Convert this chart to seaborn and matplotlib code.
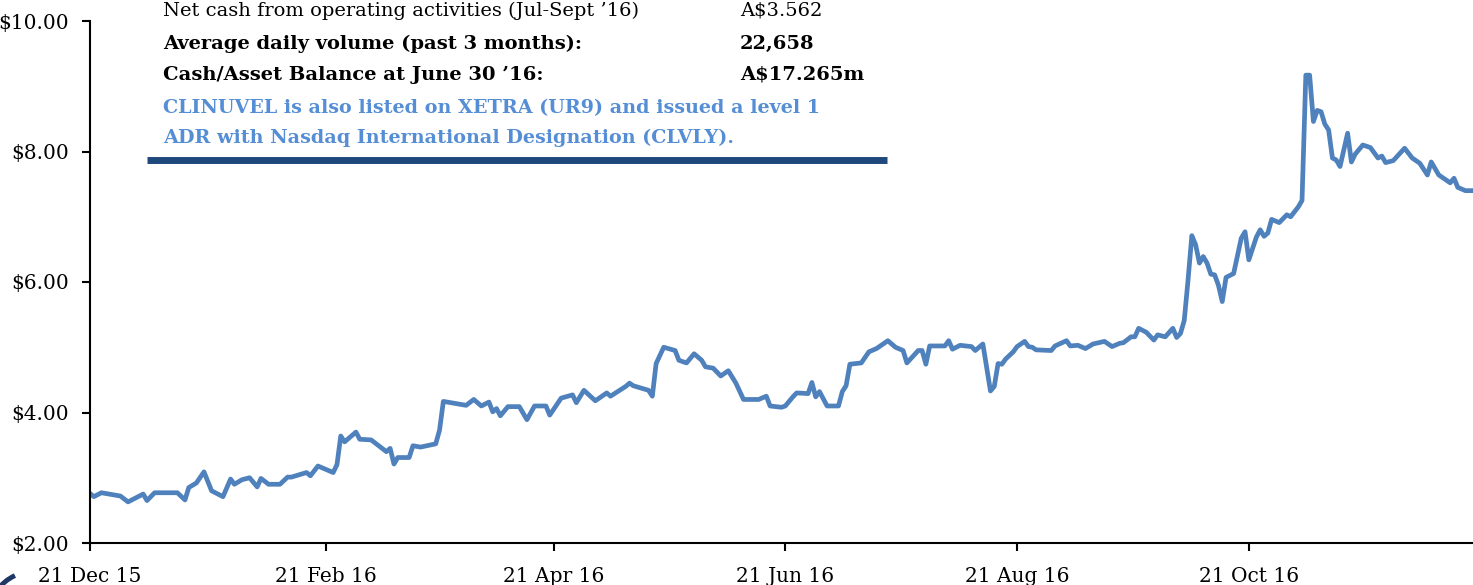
import pandas as pd
import matplotlib.pyplot as plt
import matplotlib.dates as mdates
from matplotlib.patches import Arc
import seaborn as sns

# share price (date, A$)
dates = [
    '2015-12-21', '2015-12-22', '2015-12-24', '2015-12-29', '2015-12-31',
    '2016-01-04', '2016-01-05', '2016-01-07', '2016-01-13', '2016-01-15',
    '2016-01-16', '2016-01-18', '2016-01-20', '2016-01-22', '2016-01-25',
    '2016-01-27', '2016-01-28', '2016-01-30', '2016-02-01', '2016-02-03',
    '2016-02-04', '2016-02-06', '2016-02-09', '2016-02-11', '2016-02-12',
    '2016-02-16', '2016-02-17', '2016-02-19', '2016-02-23', '2016-02-24',
    '2016-02-25', '2016-02-26', '2016-02-29', '2016-03-01', '2016-03-04',
    '2016-03-08', '2016-03-09', '2016-03-10', '2016-03-11', '2016-03-14',
    '2016-03-15', '2016-03-17', '2016-03-21', '2016-03-22', '2016-03-23',
    '2016-03-29', '2016-03-31', '2016-04-02', '2016-04-04', '2016-04-05',
    '2016-04-06', '2016-04-07', '2016-04-09', '2016-04-12', '2016-04-14',
    '2016-04-16', '2016-04-19', '2016-04-20', '2016-04-23', '2016-04-26',
    '2016-04-27', '2016-04-29', '2016-05-02', '2016-05-05', '2016-05-06',
    '2016-05-10', '2016-05-11', '2016-05-12', '2016-05-16', '2016-05-17',
    '2016-05-18', '2016-05-20', '2016-05-23', '2016-05-24', '2016-05-26',
    '2016-05-28', '2016-05-30', '2016-05-31', '2016-06-02', '2016-06-04',
    '2016-06-06', '2016-06-08', '2016-06-10', '2016-06-14', '2016-06-16',
    '2016-06-17', '2016-06-20', '2016-06-21', '2016-06-23', '2016-06-24',
    '2016-06-27', '2016-06-28', '2016-06-29', '2016-06-30', '2016-07-02',
    '2016-07-05', '2016-07-06', '2016-07-07', '2016-07-08', '2016-07-11',
    '2016-07-13', '2016-07-15', '2016-07-18', '2016-07-20', '2016-07-22',
    '2016-07-23', '2016-07-26', '2016-07-27', '2016-07-28', '2016-07-29',
    '2016-08-02', '2016-08-03', '2016-08-04', '2016-08-06', '2016-08-09',
    '2016-08-10', '2016-08-12', '2016-08-14', '2016-08-15', '2016-08-16',
    '2016-08-17', '2016-08-18', '2016-08-20', '2016-08-21', '2016-08-23',
    '2016-08-24', '2016-08-25', '2016-08-26', '2016-08-30', '2016-08-31',
    '2016-09-03', '2016-09-04', '2016-09-06', '2016-09-08', '2016-09-10',
    '2016-09-13', '2016-09-15', '2016-09-17', '2016-09-18', '2016-09-20',
    '2016-09-21', '2016-09-22', '2016-09-24', '2016-09-26', '2016-09-27',
    '2016-09-29', '2016-10-01', '2016-10-02', '2016-10-03', '2016-10-04',
    '2016-10-05', '2016-10-06', '2016-10-07', '2016-10-08', '2016-10-09',
    '2016-10-10', '2016-10-11', '2016-10-12', '2016-10-13', '2016-10-14',
    '2016-10-15', '2016-10-17', '2016-10-19', '2016-10-20', '2016-10-21',
    '2016-10-23', '2016-10-24', '2016-10-25', '2016-10-26', '2016-10-27',
    '2016-10-29', '2016-10-31', '2016-11-01', '2016-11-03', '2016-11-04',
    '2016-11-05', '2016-11-06', '2016-11-07', '2016-11-08', '2016-11-09',
    '2016-11-10', '2016-11-11', '2016-11-12', '2016-11-13', '2016-11-14',
    '2016-11-16', '2016-11-17', '2016-11-18', '2016-11-20', '2016-11-22',
    '2016-11-24', '2016-11-25', '2016-11-26', '2016-11-28', '2016-12-01',
    '2016-12-03', '2016-12-05', '2016-12-07', '2016-12-08', '2016-12-10',
    '2016-12-13', '2016-12-14', '2016-12-15', '2016-12-17', '2016-12-19',
]
prices = [
    2.76, 2.71, 2.77, 2.72, 2.63,
    2.75, 2.65, 2.77, 2.77, 2.66,
    2.85, 2.92, 3.09, 2.80, 2.71,
    2.98, 2.90, 2.97, 3.00, 2.86,
    2.99, 2.90, 2.90, 3.01, 3.01,
    3.08, 3.03, 3.18, 3.08, 3.20,
    3.64, 3.55, 3.70, 3.59, 3.58,
    3.40, 3.45, 3.21, 3.31, 3.31,
    3.49, 3.47, 3.52, 3.73, 4.17,
    4.11, 4.20, 4.10, 4.16, 4.01,
    4.06, 3.95, 4.09, 4.09, 3.89,
    4.10, 4.10, 3.96, 4.22, 4.27,
    4.15, 4.34, 4.18, 4.30, 4.25,
    4.40, 4.45, 4.41, 4.34, 4.25,
    4.75, 5.00, 4.95, 4.80, 4.76,
    4.90, 4.80, 4.70, 4.68, 4.56,
    4.64, 4.45, 4.20, 4.20, 4.25,
    4.10, 4.08, 4.10, 4.24, 4.30,
    4.29, 4.46, 4.24, 4.32, 4.10,
    4.10, 4.32, 4.41, 4.74, 4.76,
    4.93, 4.98, 5.10, 5.00, 4.95,
    4.76, 4.95, 4.95, 4.74, 5.02,
    5.02, 5.10, 4.97, 5.03, 5.01,
    4.95, 5.05, 4.33, 4.40, 4.75,
    4.74, 4.82, 4.93, 5.01, 5.09,
    5.01, 5.00, 4.96, 4.95, 5.02,
    5.10, 5.02, 5.03, 4.98, 5.05,
    5.09, 5.01, 5.06, 5.07, 5.16,
    5.16, 5.29, 5.23, 5.11, 5.19,
    5.16, 5.29, 5.15, 5.21, 5.41,
    6.03, 6.71, 6.57, 6.29, 6.39,
    6.29, 6.12, 6.11, 5.95, 5.70,
    6.07, 6.13, 6.67, 6.77, 6.34,
    6.69, 6.80, 6.70, 6.75, 6.96,
    6.91, 7.03, 7.00, 7.15, 7.25,
    9.17, 9.17, 8.46, 8.63, 8.61,
    8.42, 8.33, 7.90, 7.87, 7.77,
    8.28, 7.84, 7.96, 8.10, 8.06,
    7.90, 7.93, 7.83, 7.86, 8.05,
    7.90, 7.82, 7.64, 7.84, 7.64,
    7.52, 7.59, 7.45, 7.40, 7.40,
]
tick_dates = ['2015-12-21', '2016-02-21', '2016-04-21', '2016-06-21', '2016-08-21', '2016-10-21']
y_ticks = [2, 4, 6, 8, 10]

info_rows = [
    ("Net cash from operating activities (Jul-Sept \u201916)", "A$3.562", 'normal'),
    ("Average daily volume (past 3 months):", "22,658", 'bold'),
    ("Cash/Asset Balance at June 30 \u201916:", "A$17.265m", 'bold'),
]
note_lines = [
    "CLINUVEL is also listed on XETRA (UR9) and issued a level 1",
    "ADR with Nasdaq International Designation (CLVLY).",
]

df = pd.DataFrame({'Date': pd.to_datetime(dates), 'Price': prices})

sns.set_style('ticks')
plt.rcParams['font.family'] = ['DejaVu Serif']
plt.rcParams['text.color'] = 'black'

W, H = 1473, 585
fig = plt.figure(figsize=(W / 100, H / 100), dpi=100)
ax = fig.add_axes([90 / W, 1 - 543 / H, 1 - 90 / W, (543 - 21) / H])

sns.lineplot(data=df, x='Date', y='Price', color='#4F81BD', linewidth=3.4, ax=ax)

ax.set_ylim(2, 10)
ax.set_xlim(pd.Timestamp('2015-12-21'), pd.Timestamp('2016-12-19'))
ax.set_yticks(y_ticks)
ax.set_yticklabels(['${:.2f}'.format(v) for v in y_ticks])
ax.set_xticks(pd.to_datetime(tick_dates))
ax.xaxis.set_major_formatter(mdates.DateFormatter('%d %b %y'))
ax.set_xlabel('')
ax.set_ylabel('')
sns.despine(ax=ax)
for s in ['left', 'bottom']:
    ax.spines[s].set_linewidth(1.5)
    ax.spines[s].set_color('black')
ax.tick_params(axis='both', length=6, width=1.5, color='black', labelsize=14.5, labelcolor='black')
ax.tick_params(axis='x', pad=11)
ax.tick_params(axis='y', pad=9)

# info box at the top
x_label, x_value = 163 / W, 740 / W
row_y = [11, 44, 75]
for (label, value, weight), py in zip(info_rows, row_y):
    fig.text(x_label, 1 - py / H, label, fontsize=14, fontweight=weight, va='center', ha='left')
    fig.text(x_value, 1 - py / H, value, fontsize=14, fontweight=weight, va='center', ha='left')
for line, py in zip(note_lines, [108, 138]):
    fig.text(x_label, 1 - py / H, line, fontsize=13.8, fontweight='bold', color='#558ED5', va='center', ha='left')
fig.add_artist(plt.Line2D([147 / W, 887 / W], [1 - 160 / H] * 2, color='#1F497D',
                          linewidth=5, solid_capstyle='butt'))

# corner of the logo ring, bottom left
fig.add_artist(Arc((32 / W, 1 - 614 / H), 84 / W, 84 / H, theta1=100, theta2=180,
                   color='#1F3864', linewidth=3.5, transform=fig.transFigure))

fig.savefig('out.png', dpi=100)
